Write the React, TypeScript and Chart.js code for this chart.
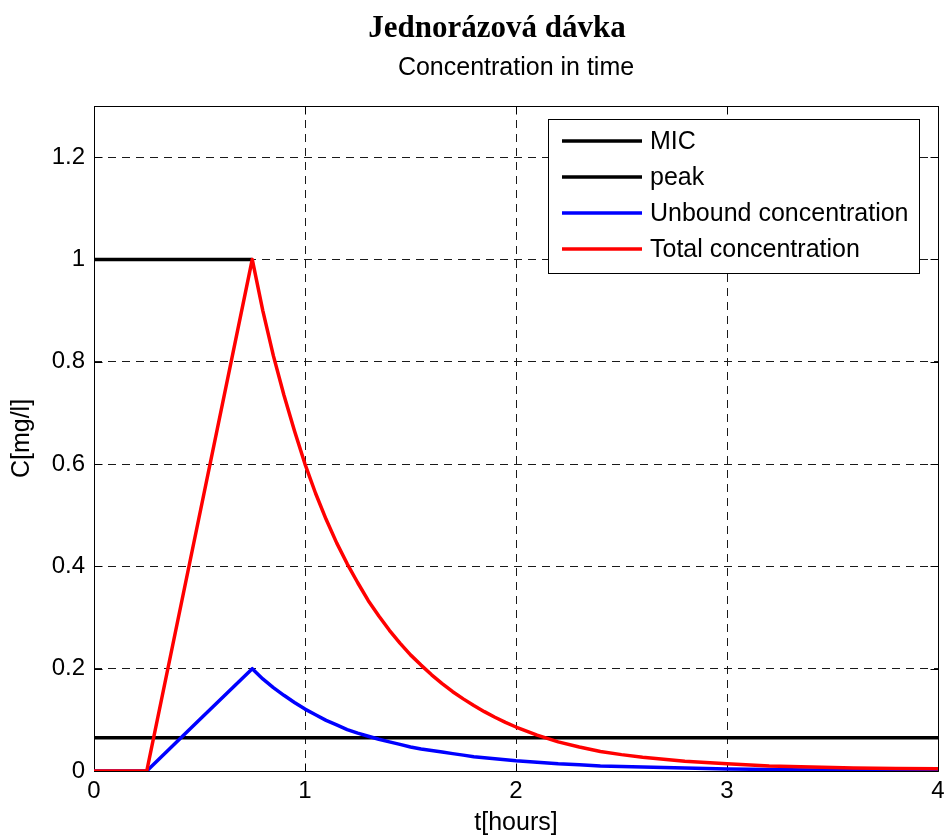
import React, { useEffect, useRef } from "react";
import { Chart, registerables } from "chart.js";

Chart.register(...registerables);

// ---- data ----
const TITLE = "Jednorázová dávka";
const SUBTITLE = "Concentration in time";
const X_LABEL = "t[hours]";
const Y_LABEL = "C[mg/l]";

const SERIES_LABELS = ["MIC", "peak", "Unbound concentration", "Total concentration"];

const TIME = [
  0, 0.25, 0.5, 0.75, 0.8, 0.85, 0.9, 0.95, 1.0, 1.05, 1.1, 1.15, 1.2, 1.25, 1.3, 1.35, 1.4, 1.45, 1.5,
  1.55, 1.6, 1.65, 1.7, 1.75, 1.8, 1.85, 1.9, 1.95, 2.0, 2.1, 2.2, 2.3, 2.4, 2.5, 2.6, 2.8, 3.0, 3.2,
  3.4, 3.6, 3.8, 4.0,
];
const TOTAL = [
  0, 0, 0.5, 1.0, 0.9, 0.812, 0.735, 0.665, 0.6, 0.543, 0.492, 0.446, 0.405, 0.368, 0.333, 0.303, 0.275, 0.25, 0.227,
  0.207, 0.188, 0.171, 0.155, 0.141, 0.128, 0.116, 0.105, 0.095, 0.086, 0.07, 0.057, 0.047, 0.038, 0.032, 0.027, 0.019, 0.014, 0.01,
  0.008, 0.006, 0.005, 0.0045,
];
const UNBOUND = [
  0, 0, 0.1, 0.2, 0.18, 0.163, 0.148, 0.134, 0.121, 0.11, 0.099, 0.09, 0.081, 0.074, 0.068, 0.062, 0.057, 0.052, 0.047,
  0.043, 0.04, 0.037, 0.034, 0.031, 0.028, 0.026, 0.024, 0.022, 0.02, 0.017, 0.014, 0.012, 0.01, 0.009, 0.008, 0.006, 0.004, 0.003,
  0.002, 0.002, 0.001, 0.001,
];
const MIC_LEVEL = 0.065;
const MIC_RANGE = [0, 4];
const PEAK_LEVEL = 1;
const PEAK_RANGE = [0, 0.75];

const X_TICKS = [0, 1, 2, 3, 4];
const Y_TICKS = [0, 0.2, 0.4, 0.6, 0.8, 1, 1.2];
const X_MIN = 0;
const X_MAX = 4;
const Y_MIN = 0;
const Y_MAX = 1.3;

const COLORS = ["#000000", "#000000", "#0000ff", "#ff0000"];

const SANS = '"Liberation Sans", Arial, Helvetica, sans-serif';
const SERIF = '"Liberation Serif", "Times New Roman", serif';

const decorPlugin = {
  id: "decor",
  beforeDatasetsDraw(chart: any) {
    const { ctx, chartArea: a, scales } = chart;
    ctx.save();
    ctx.strokeStyle = "#000";
    ctx.lineWidth = 1;
    ctx.setLineDash([]);
    const L = Math.round(a.left) + 0.5;
    const R = Math.round(a.right) + 0.5;
    const T = Math.round(a.top) + 0.5;
    const B = Math.round(a.bottom) + 0.5;
    ctx.beginPath();
    ctx.rect(L, T, R - L, B - T);
    const tl = 8;
    X_TICKS.forEach((v) => {
      const x = Math.round(scales.x.getPixelForValue(v)) + 0.5;
      ctx.moveTo(x, B);
      ctx.lineTo(x, B - tl);
      ctx.moveTo(x, T);
      ctx.lineTo(x, T + tl);
    });
    Y_TICKS.forEach((v) => {
      const y = Math.round(scales.y.getPixelForValue(v)) + 0.5;
      ctx.moveTo(L, y);
      ctx.lineTo(L + tl, y);
      ctx.moveTo(R, y);
      ctx.lineTo(R - tl, y);
    });
    ctx.stroke();
    ctx.restore();
  },
  afterDraw(chart: any) {
    const { ctx } = chart;
    ctx.save();
    // main bold title
    ctx.fillStyle = "#000";
    ctx.font = `bold 31px ${SERIF}`;
    ctx.textAlign = "center";
    ctx.textBaseline = "alphabetic";
    ctx.fillText(TITLE, 497, 37);

    // legend box inside plot (top right)
    const bx = 548.5;
    const by = 119.5;
    const bw = 371;
    const bh = 154;
    ctx.fillStyle = "#fff";
    ctx.fillRect(bx, by, bw, bh);
    ctx.strokeStyle = "#000";
    ctx.lineWidth = 1;
    ctx.strokeRect(bx, by, bw, bh);
    const rows = chart.data.datasets;
    ctx.font = `25px ${SANS}`;
    ctx.textAlign = "left";
    ctx.textBaseline = "middle";
    rows.forEach((ds: any, i: number) => {
      const y = 141 + i * 36;
      ctx.strokeStyle = ds.borderColor;
      ctx.lineWidth = 3.5;
      ctx.beginPath();
      ctx.moveTo(562, y);
      ctx.lineTo(642, y);
      ctx.stroke();
      ctx.fillStyle = "#000";
      ctx.fillText(ds.label, 650, y + 1);
    });
    ctx.restore();
  },
};

export default function App() {
  const ref = useRef<HTMLCanvasElement | null>(null);

  useEffect(() => {
    document.body.style.margin = "0";
    const canvas = ref.current;
    if (!canvas) return;
    const pts = (xs: number[], ys: number[]) => xs.map((x, i) => ({ x, y: ys[i] }));
    const line = (i: number, data: any[], order: number) => ({
      label: SERIES_LABELS[i],
      data,
      borderColor: COLORS[i],
      borderWidth: 3.5,
      borderJoinStyle: "round",
      pointRadius: 0,
      order,
    });
    const chart = new Chart(canvas, {
      type: "line",
      data: {
        datasets: [
          line(0, pts(MIC_RANGE, [MIC_LEVEL, MIC_LEVEL]), 3),
          line(1, pts(PEAK_RANGE, [PEAK_LEVEL, PEAK_LEVEL]), 2),
          line(2, pts(TIME, UNBOUND), 1),
          line(3, pts(TIME, TOTAL), 0),
        ],
      },
      options: {
        animation: false,
        responsive: false,
        events: [],
        layout: { padding: { left: 0, right: 8, top: 0, bottom: 0 } },
        elements: { line: { tension: 0, fill: false } },
        plugins: {
          legend: { display: false },
          tooltip: { enabled: false },
          title: {
            display: true,
            text: SUBTITLE,
            fullSize: false,
            color: "#000",
            font: { family: SANS, size: 25, weight: "normal", lineHeight: 1.2 },
            padding: { top: 53, bottom: 23 },
          },
        },
        scales: {
          x: {
            type: "linear",
            min: X_MIN,
            max: X_MAX,
            afterBuildTicks: (s: any) => {
              s.ticks = X_TICKS.map((v) => ({ value: v }));
            },
            afterFit: (s: any) => {
              s.height = 65;
              s.paddingLeft = 0;
              s.paddingRight = 0;
            },
            ticks: {
              color: "#000",
              padding: 6,
              font: { family: SANS, size: 24 },
              callback: (v: any) => String(v),
            },
            grid: { color: "#1a1a1a", lineWidth: 1, drawTicks: false, borderDash: [8, 6] } as any,
            border: { display: false, dash: [8, 6] },
            title: {
              display: true,
              text: X_LABEL,
              color: "#000",
              font: { family: SANS, size: 25, lineHeight: 1.0 },
              padding: { top: 0, bottom: 0 },
            },
          },
          y: {
            type: "linear",
            min: Y_MIN,
            max: Y_MAX,
            afterBuildTicks: (s: any) => {
              s.ticks = Y_TICKS.map((v) => ({ value: v }));
            },
            afterFit: (s: any) => {
              s.width = 94;
            },
            ticks: {
              color: "#000",
              padding: 9,
              font: { family: SANS, size: 24 },
              callback: (v: any) => String(Math.round(Number(v) * 10) / 10),
            },
            grid: { color: "#1a1a1a", lineWidth: 1, drawTicks: false, borderDash: [8, 6] } as any,
            border: { display: false, dash: [8, 6] },
            title: {
              display: true,
              text: Y_LABEL,
              color: "#000",
              font: { family: SANS, size: 25, lineHeight: 1.2 },
              padding: { top: 7, bottom: 0 },
            },
          },
        },
      } as any,
      plugins: [decorPlugin],
    });
    return () => chart.destroy();
  }, []);

  return (
    <div style={{ width: 946, height: 836, position: "relative", background: "#fff" }}>
      <canvas ref={ref} width={946} height={836} style={{ display: "block" }} />
    </div>
  );
}
